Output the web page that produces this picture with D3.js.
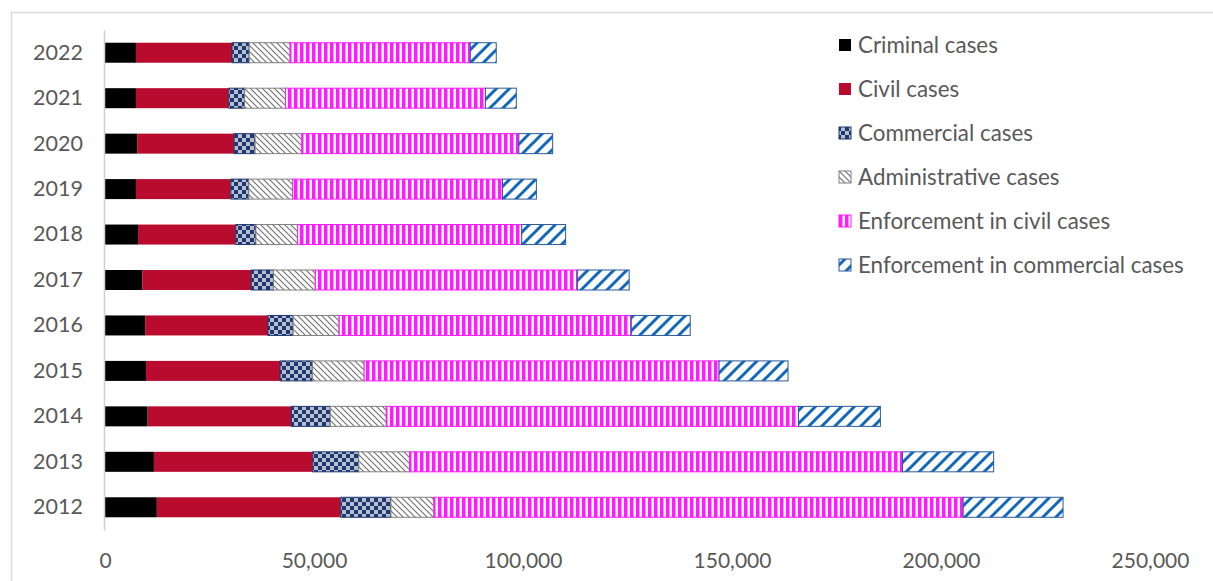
<!DOCTYPE html>
<html>
<head>
<meta charset="utf-8">
<script src="https://cdn.jsdelivr.net/npm/d3@7"></script>
<style>
  html, body { margin: 0; padding: 0; background: #fff; }
  svg { display: block; font-family: Lato, "Open Sans", sans-serif; }
</style>
</head>
<body>
<div id="chart"></div>
<script>
// years top to bottom, each series in the same order
const years = ['2022', '2021', '2020', '2019', '2018', '2017', '2016', '2015', '2014', '2013', '2012'];
const criminal       = [7400, 7400, 7700, 7400, 7900, 8900, 9600, 9800, 10200, 11700, 12400];
const civil          = [23000, 22200, 23200, 22700, 23400, 26100, 29400, 32100, 34400, 38000, 44000];
const commercial     = [4100, 3800, 5000, 4300, 4800, 5300, 6000, 7700, 9300, 11000, 12000];
const administrative = [9800, 9800, 11200, 10500, 10000, 10000, 11000, 12400, 13400, 12200, 10300];
const enfCivil       = [43100, 47800, 51900, 50200, 53600, 62700, 69900, 84900, 98600, 117900, 126600];
const enfCommercial  = [6200, 7400, 8100, 8100, 10500, 12400, 14100, 16500, 19600, 21800, 23900];
const xTicks = [0, 50000, 100000, 150000, 200000, 250000];

const seriesNames = ['Criminal cases', 'Civil cases', 'Commercial cases', 'Administrative cases',
  'Enforcement in civil cases', 'Enforcement in commercial cases'];
const seriesValues = [criminal, civil, commercial, administrative, enfCivil, enfCommercial];

const width = 1213, height = 581;
const textColor = '#595959';

const svg = d3.select('#chart').append('svg')
  .attr('width', width)
  .attr('height', height);

// --- fill patterns, roughly like the Excel ones ---
const defs = svg.append('defs');

const pComm = defs.append('pattern').attr('id', 'p-comm')
  .attr('patternUnits', 'userSpaceOnUse').attr('width', 8).attr('height', 8);
pComm.append('rect').attr('width', 8).attr('height', 8).attr('fill', '#1f3870');
[[1, 1], [3, 3], [5, 5], [7, 7], [7, 1], [5, 3], [3, 5], [1, 7]].forEach(([cx, cy]) => {
  pComm.append('circle').attr('cx', cx).attr('cy', cy).attr('r', 0.9).attr('fill', '#fff');
});

const pAdm = defs.append('pattern').attr('id', 'p-adm')
  .attr('patternUnits', 'userSpaceOnUse').attr('width', 6).attr('height', 6);
pAdm.append('rect').attr('width', 6).attr('height', 6).attr('fill', '#fff');
pAdm.append('path').attr('d', 'M0,0L6,6M-3,3L3,9M3,-3L9,3')
  .attr('stroke', '#6f6f6f').attr('stroke-width', 1.1);

const pCiv = defs.append('pattern').attr('id', 'p-enfciv')
  .attr('patternUnits', 'userSpaceOnUse').attr('width', 6).attr('height', 6);
pCiv.append('rect').attr('width', 6).attr('height', 6).attr('fill', '#fff');
pCiv.append('rect').attr('width', 3.5).attr('height', 6).attr('fill', '#ff1aff');

const pEc = defs.append('pattern').attr('id', 'p-enfcom')
  .attr('patternUnits', 'userSpaceOnUse').attr('width', 13).attr('height', 13);
pEc.append('rect').attr('width', 13).attr('height', 13).attr('fill', '#fff');
pEc.append('path').attr('d', 'M0,13L13,0M-6.5,6.5L6.5,-6.5M6.5,19.5L19.5,6.5')
  .attr('stroke', '#1068bd').attr('stroke-width', 3);

const fills = ['#000000', '#b80b2d', 'url(#p-comm)', 'url(#p-adm)', 'url(#p-enfciv)', 'url(#p-enfcom)'];
const strokes = ['none', 'none', '#1f3870', '#7f7f7f', '#ff1aff', '#2a5a9a'];

// outer frame (chart area border)
svg.append('path')
  .attr('d', `M11.5,${height}V12.5H${width}`)
  .attr('fill', 'none')
  .attr('stroke', '#d9d9d9')
  .attr('stroke-width', 1.5);

// --- scales ---
const x = d3.scaleLinear().domain([0, 250000]).range([105, 1150]);
const y = d3.scaleBand().domain(years).range([30, 530]).paddingInner(0.56).paddingOuter(0.28);

// stack the series
const rows = years.map((yr, i) => {
  const r = { year: yr };
  seriesNames.forEach((s, j) => { r[s] = seriesValues[j][i]; });
  return r;
});
const stacked = d3.stack().keys(seriesNames)(rows);

svg.append('g').selectAll('g')
  .data(stacked)
  .join('g')
  .attr('fill', (d, i) => fills[i])
  .attr('stroke', (d, i) => strokes[i])
  .attr('stroke-width', 1)
  .selectAll('rect')
  .data(d => d)
  .join('rect')
  .attr('x', d => x(d[0]))
  .attr('y', d => y(d.data.year))
  .attr('width', d => x(d[1]) - x(d[0]))
  .attr('height', y.bandwidth());

// --- axes ---
const yAxis = svg.append('g')
  .attr('transform', 'translate(104,0)')
  .call(d3.axisLeft(y).tickSize(0).tickPadding(21).tickSizeOuter(0));
yAxis.select('.domain').attr('stroke', '#d0d0d0').attr('stroke-width', 1.5);
yAxis.selectAll('text').attr('font-size', 21.5).attr('fill', textColor)
  .attr('font-family', 'Lato, "Open Sans", sans-serif');

const xAxis = svg.append('g')
  .attr('transform', 'translate(0,530)')
  .call(d3.axisBottom(x).tickValues(xTicks).tickFormat(d3.format(',')).tickSize(0));
xAxis.select('.domain').remove();
xAxis.selectAll('text')
  .attr('y', 31).attr('dy', '0.35em')
  .attr('font-size', 21).attr('fill', textColor)
  .attr('font-family', 'Lato, "Open Sans", sans-serif');

// --- legend ---
const legend = svg.append('g').attr('transform', 'translate(839,45)');
const item = legend.selectAll('g')
  .data(seriesNames)
  .join('g')
  .attr('transform', (d, i) => `translate(0,${i * 44})`);
item.append('rect')
  .attr('x', 0).attr('y', -6)
  .attr('width', 12).attr('height', 12)
  .attr('fill', (d, i) => fills[i])
  .attr('stroke', (d, i) => strokes[i]);
item.append('text')
  .attr('x', 19).attr('y', 0).attr('dy', '0.35em')
  .attr('font-size', 22.4).attr('fill', textColor)
  .text(d => d);
</script>
</body>
</html>
